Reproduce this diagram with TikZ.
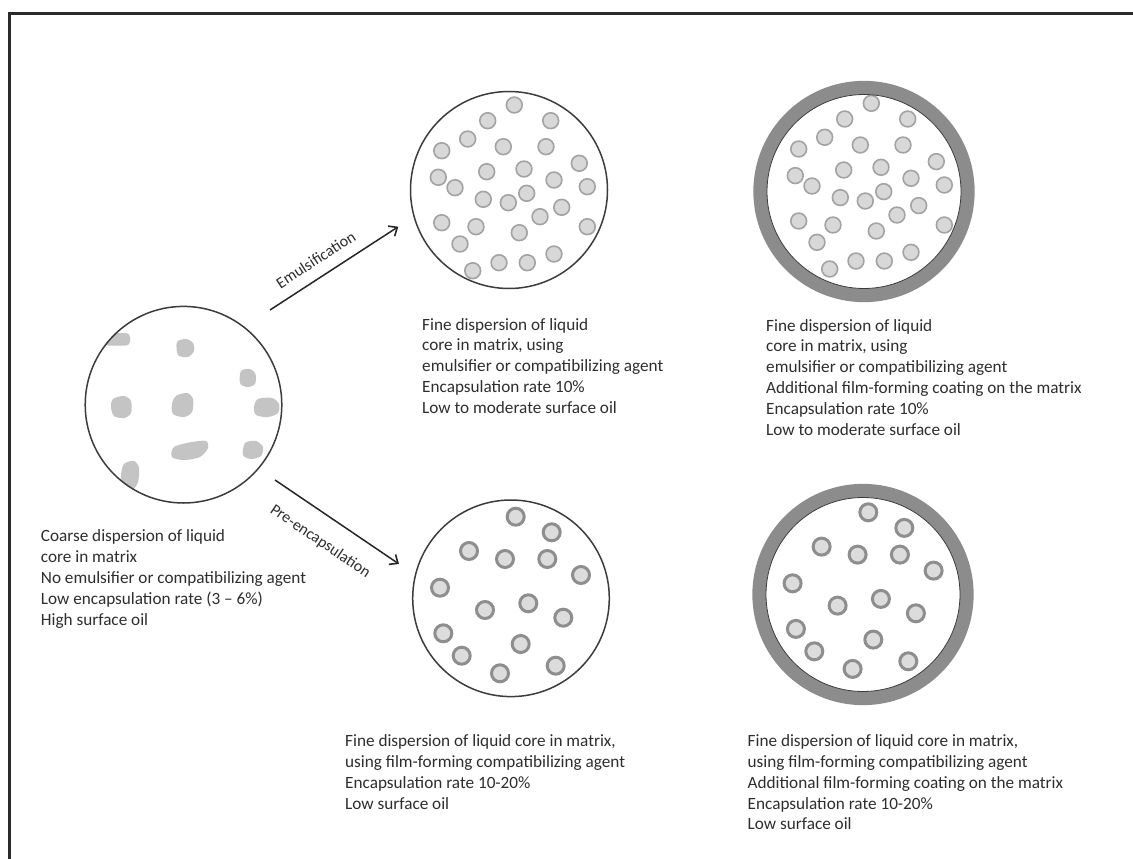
\documentclass[tikz,border=0pt]{standalone}
\usepackage{fontspec}
\setmainfont{Carlito}
\usetikzlibrary{arrows.meta}
\definecolor{txt}{HTML}{2E2E2E}
\definecolor{circ}{HTML}{3C3C3C}
\definecolor{blobc}{HTML}{C4C4C4}
\definecolor{dropfill}{HTML}{D8D8D8}
\definecolor{dropedge}{HTML}{A3A3A3}
\definecolor{pdropfill}{HTML}{DCDCDC}
\definecolor{pdropedge}{HTML}{8E8E8E}
\definecolor{ringc}{HTML}{8C8C8C}
\definecolor{framec}{HTML}{2A2A2A}
\begin{document}
\begin{tikzpicture}[x=1pt,y=1pt,
  outline/.style={circle, draw=circ, line width=1.5pt, inner sep=0pt},
  thinoutline/.style={circle, draw=circ, line width=0.8pt, inner sep=0pt},
  drop/.style={fill=dropfill, draw=dropedge, line width=1.6pt},
  pdrop/.style={fill=pdropfill, draw=pdropedge, line width=3pt},
  blob/.style={fill=blobc},
  ring/.style={draw=ringc, line width=13.5pt},
  desc/.style={anchor=base west, inner sep=0pt, text=txt, font=\fontsize{17.2}{20.8}\selectfont},
  flow/.style={draw=black!85, line width=1.5pt, -{Straight Barb[length=7pt,width=12pt,line width=1.6pt]}},
  lab/.style={text=txt, font=\fontsize{16}{18}\selectfont, inner sep=0pt}]
\useasboundingbox (0,0) rectangle (1133,-859);
\fill[white] (0,0) rectangle (1133,-859);
% frame
\draw[framec, line width=3pt] (1140,-14) -- (9,-14) -- (9,-870);

% ---------- left circle: coarse dispersion ----------
\begin{scope}
  \clip (183.5,-404.7) circle (98.3);
  \fill[blob, rounded corners=4pt] (104,-333) rectangle (130,-345.5);
  \fill[blob] plot[smooth cycle] coordinates {(177,-342) (186,-339) (193,-343) (194,-351) (188,-357) (178,-355)};
  \fill[blob] plot[smooth cycle] coordinates {(241,-371) (250,-369) (255.5,-374) (255,-384) (247,-387) (240,-383)};
  \fill[blob] plot[smooth cycle] coordinates {(113,-399) (124,-396) (131,-401) (131,-413) (124,-418) (114,-416) (111,-407)};
  \fill[blob] plot[smooth cycle] coordinates {(176,-396) (187,-393) (193,-399) (192,-412) (184,-417) (173,-414) (172,-404)};
  \fill[blob] plot[smooth cycle] coordinates {(258,-399) (272,-398) (279,-404) (278,-413) (268,-417) (256,-415) (254,-407)};
  \fill[blob] plot[smooth cycle] coordinates {(174,-447) (192,-442) (206,-441) (208,-448) (200,-457) (184,-460) (172,-457)};
  \fill[blob] plot[smooth cycle] coordinates {(245,-443) (256,-441) (263,-447) (261,-456) (251,-459) (243,-455)};
  \fill[blob] plot[smooth cycle] coordinates {(124,-464) (134,-461) (139,-468) (138,-482) (132,-490) (122,-488) (121,-475)};
\end{scope}
\node[outline, minimum size=196.6pt] (L) at (183.5,-404.7) {};

% ---------- top middle: emulsified ----------
\foreach \x/\y in {514.3/105, 487.7/120.7, 550.7/120.7, 467.7/139, 503.3/146.7,
  546/146.7, 441.7/150.7, 579.3/163.3, 486.7/171.7, 524/169, 438.3/177.3,
  455/187.7, 554/180, 587.3/186.7, 526.7/193.3, 483.3/199.3, 508.3/202.7,
  561.7/207.3, 540/216.7, 441.7/222.7, 476/226.7, 519.3/232.7, 587.3/226.7,
  460/244, 554/254, 499/262.7, 527.3/262.7, 472.7/270.7}
  \draw[drop] (\x,-\y) circle (7.9);
\node[outline, minimum size=197pt] (TM) at (509,-190) {};

% ---------- top right: emulsified + coating ----------
\draw[ring] (864,-191.5) circle (103.9);
\begin{scope}[shift={(357,1.7)}]
\foreach \x/\y in {514.3/105, 487.7/120.7, 550.7/120.7, 467.7/139, 503.3/146.7,
  546/146.7, 441.7/150.7, 579.3/163.3, 486.7/171.7, 524/169, 438.3/177.3,
  455/187.7, 554/180, 587.3/186.7, 526.7/193.3, 483.3/199.3, 508.3/202.7,
  561.7/207.3, 540/216.7, 441.7/222.7, 476/226.7, 519.3/232.7, 587.3/226.7,
  460/244, 554/254, 499/262.7, 527.3/262.7, 472.7/270.7}
  \draw[drop] (\x,-\y) circle (7.9);
\end{scope}
\node[thinoutline, minimum size=194pt] (TR) at (864,-191.5) {};

% ---------- bottom middle: pre-encapsulated ----------
\foreach \x/\y in {515.7/516.7, 551.7/532.3, 469/551, 505/559, 547.3/559,
  581/575, 440/587.7, 528.3/603.3, 485/610, 563.3/617.7, 443.3/633.3,
  520.7/644, 461.7/655.7, 555.7/665.7, 500/673.3}
  \draw[pdrop] (\x,-\y) circle (8.5);
\node[outline, minimum size=196.6pt] (BM) at (511,-598.3) {};

% ---------- bottom right: pre-encapsulated + coating ----------
\draw[ring] (863,-594.5) circle (103.9);
\begin{scope}[shift={(352.6,4.4)}]
\foreach \x/\y in {515.7/516.7, 551.7/532.3, 469/551, 505/559, 547.3/559,
  581/575, 440/587.7, 528.3/603.3, 485/610, 563.3/617.7, 443.3/633.3,
  520.7/644, 461.7/655.7, 555.7/665.7, 500/673.3}
  \draw[pdrop] (\x,-\y) circle (8.5);
\end{scope}
\node[thinoutline, minimum size=194pt] (BR) at (863,-594.5) {};

% ---------- arrows ----------
\coordinate (e1s) at (270,-310);
\coordinate (e1e) at (398.3,-226.7);
\coordinate (e2s) at (275,-480);
\coordinate (e2e) at (399,-564);
\draw[flow] (e1s) -- node[lab, sloped, pos=0.43, above=11pt] (lemul) {Emulsification} (e1e);
\draw[flow] (e2s) -- node[lab, sloped, pos=0.48, below=18pt] (lpre) {Pre-encapsulation} (e2e);

% ---------- descriptions ----------
\node[desc, font=\fontsize{17.2}{21.2}\selectfont] (tL) at (40.7,-541) {%
  \begin{tabular}[t]{@{}l@{}}
  Coarse dispersion of liquid\\
  core in matrix\\
  No emulsifier or compatibilizing agent\\
  Low encapsulation rate (3 -- 6\%)\\
  High surface oil
  \end{tabular}};

\node[desc, font=\fontsize{17.2}{20.75}\selectfont] (tTM) at (422,-330) {%
  \begin{tabular}[t]{@{}l@{}}
  Fine dispersion of liquid\\
  core in matrix, using\\
  emulsifier or compatibilizing agent\\
  Encapsulation rate 10\%\\
  Low to moderate surface oil
  \end{tabular}};

\node[desc, font=\fontsize{17.2}{20.9}\selectfont] (tTR) at (766,-331) {%
  \begin{tabular}[t]{@{}l@{}}
  Fine dispersion of liquid\\
  core in matrix, using\\
  emulsifier or compatibilizing agent\\
  Additional film-forming coating on the matrix\\
  Encapsulation rate 10\%\\
  Low to moderate surface oil
  \end{tabular}};

\node[desc] (tBM) at (345,-746.7) {%
  \begin{tabular}[t]{@{}l@{}}
  Fine dispersion of liquid core in matrix,\\
  using film-forming compatibilizing agent\\
  Encapsulation rate 10-20\%\\
  Low surface oil
  \end{tabular}};

\node[desc] (tBR) at (747.5,-746.7) {%
  \begin{tabular}[t]{@{}l@{}}
  Fine dispersion of liquid core in matrix,\\
  using film-forming compatibilizing agent\\
  Additional film-forming coating on the matrix\\
  Encapsulation rate 10-20\%\\
  Low surface oil
  \end{tabular}};
\end{tikzpicture}
\end{document}
